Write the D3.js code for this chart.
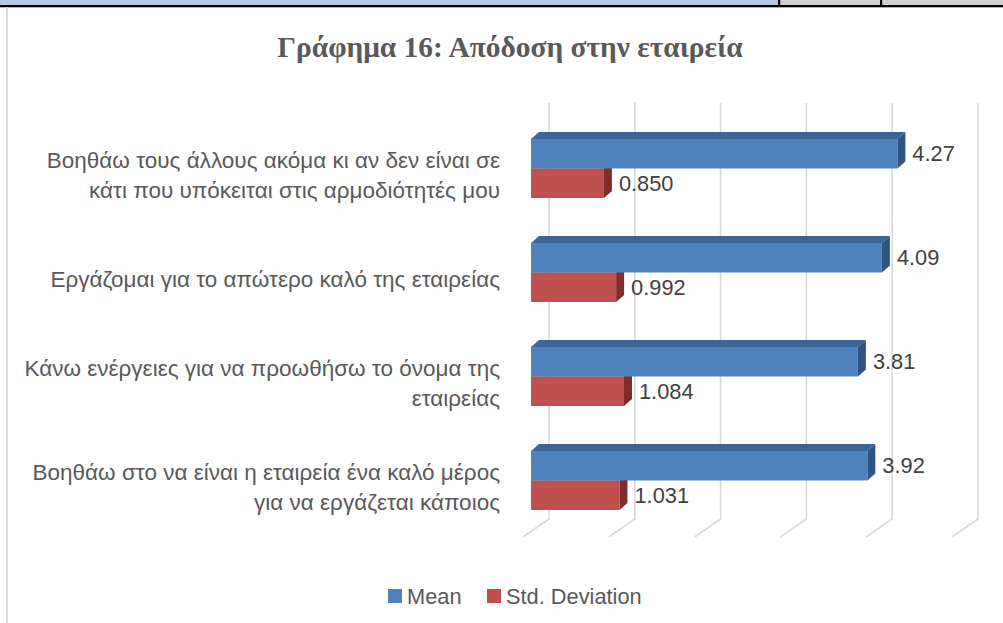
<!DOCTYPE html>
<html>
<head>
<meta charset="utf-8">
<script src="https://cdn.jsdelivr.net/npm/d3@7"></script>
<style>
  html, body { margin: 0; padding: 0; background: #fff; }
  svg { display: block; }
</style>
</head>
<body>
<svg id="chart" width="1003" height="623"></svg>
<script>
const titleText = "Γράφημα 16: Απόδοση στην εταιρεία";
const categories = [
  ["Βοηθάω τους άλλους ακόμα κι αν δεν είναι σε", "κάτι που υπόκειται στις αρμοδιότητές μου"],
  ["Εργάζομαι για το απώτερο καλό της εταιρείας"],
  ["Κάνω ενέργειες για να προωθήσω το όνομα της", "εταιρείας"],
  ["Βοηθάω στο να είναι η εταιρεία ένα καλό μέρος", "για να εργάζεται κάποιος"]
];
const seriesNames = ["Mean", "Std. Deviation"];
const meanValues = [4.27, 4.09, 3.81, 3.92];
const sdValues = [0.850, 0.992, 1.084, 1.031];
const meanLabels = ["4.27", "4.09", "3.81", "3.92"];
const sdLabels = ["0.850", "0.992", "1.084", "1.031"];
const tickValues = [0, 1, 2, 3, 4, 5];

const svg = d3.select("#chart");
const W = 1003, H = 623;

// page frame pieces
svg.append("rect").attr("x", 0).attr("y", 0).attr("width", 778).attr("height", 5).attr("fill", "#b4c7e7");
svg.append("rect").attr("x", 778).attr("y", 0).attr("width", 225).attr("height", 5).attr("fill", "#d0cece");
svg.append("rect").attr("x", 0).attr("y", 5).attr("width", W).attr("height", 2.3).attr("fill", "#000");
svg.append("rect").attr("x", 778).attr("y", 0).attr("width", 2.2).attr("height", 6).attr("fill", "#000");
svg.append("rect").attr("x", 880).attr("y", 0).attr("width", 2.2).attr("height", 6).attr("fill", "#000");
svg.append("rect").attr("x", 6).attr("y", 7).attr("width", 1.8).attr("height", H - 7).attr("fill", "#d9d9d9");

// title
svg.append("text")
  .attr("x", 510).attr("y", 57)
  .attr("text-anchor", "middle")
  .attr("font-family", "Liberation Serif, Times New Roman, serif")
  .attr("font-weight", "bold")
  .attr("font-size", 29.4)
  .attr("fill", "#595959")
  .text(titleText);

// 3D geometry
const x = d3.scaleLinear().domain([0, 5]).range([549, 978]);      // back wall
const y = d3.scaleBand().domain(d3.range(categories.length)).range([103, 519]);
const s = d3.scaleBand().domain(seriesNames).range([24, 83]);
const floorDX = -26, floorDY = 18;   // back wall -> front floor edge
const barDX = -18, barDY = 12;       // back wall -> bar front face
const depthX = 8, depthY = 7;        // bar depth

// gridlines
const grid = svg.append("g");
tickValues.forEach(t => {
  const gx = x(t);
  grid.append("path")
    .attr("d", `M${gx},${y.range()[0]} L${gx},${y.range()[1]} L${gx + floorDX},${y.range()[1] + floorDY}`)
    .attr("fill", "none").attr("stroke", "#d9d9d9").attr("stroke-width", 1.6);
});

const colors = {
  "Mean": { front: "#4f81bd", top: "#3c6496", side: "#2f5483" },
  "Std. Deviation": { front: "#c0504d", top: "#9a3d3a", side: "#7f2c2a" }
};

function drawBar(g, cat, series, v) {
  const c = colors[series];
  const x0 = x(0) + barDX, x1 = x(v) + barDX;
  const y0 = y(cat) + s(series) + barDY, y1 = y0 + s.bandwidth();
  g.append("path")
    .attr("d", `M${x0},${y0} L${x1},${y0} L${x1 + depthX},${y0 - depthY} L${x0 + depthX},${y0 - depthY} Z`)
    .attr("fill", c.top);
  g.append("path")
    .attr("d", `M${x1},${y0} L${x1 + depthX},${y0 - depthY} L${x1 + depthX},${y1 - depthY} L${x1},${y1} Z`)
    .attr("fill", c.side);
  g.append("rect")
    .attr("x", x0).attr("y", y0).attr("width", x1 - x0).attr("height", y1 - y0)
    .attr("fill", c.front);
}

const bars = svg.append("g");
categories.forEach((cat, i) => {
  drawBar(bars, i, "Std. Deviation", sdValues[i]);
  drawBar(bars, i, "Mean", meanValues[i]);
});

// data labels
const labels = svg.append("g")
  .attr("font-family", "Liberation Sans, Arial, sans-serif")
  .attr("font-size", 21.8).attr("fill", "#404040");
categories.forEach((cat, i) => {
  [["Mean", meanValues[i], meanLabels[i]], ["Std. Deviation", sdValues[i], sdLabels[i]]].forEach(([ser, v, lab]) => {
    const y0 = y(i) + s(ser) + barDY;
    labels.append("text")
      .attr("x", x(v) + barDX + depthX + 7)
      .attr("y", y0 + s.bandwidth() / 2)
      .attr("dy", "0.35em")
      .text(lab);
  });
});

// category labels
const catG = svg.append("g")
  .attr("font-family", "Liberation Sans, Arial, sans-serif")
  .attr("font-size", 22.5).attr("fill", "#595959")
  .attr("text-anchor", "end");
const lineH = 29.5;
categories.forEach((lines, i) => {
  const cy = y(i) + y.bandwidth() / 2 + 20;
  const t = catG.append("text").attr("x", 500);
  lines.forEach((ln, k) => {
    t.append("tspan")
      .attr("x", 500)
      .attr("y", cy + (k - (lines.length - 1) / 2) * lineH)
      .attr("dy", "0.35em")
      .text(ln);
  });
});

// legend
const legend = svg.append("g")
  .attr("font-family", "Liberation Sans, Arial, sans-serif")
  .attr("font-size", 21.8).attr("fill", "#595959");
const legendPos = [388, 487];
seriesNames.forEach((name, i) => {
  legend.append("rect")
    .attr("x", legendPos[i]).attr("y", 589).attr("width", 14).attr("height", 14)
    .attr("fill", colors[name].front);
  legend.append("text")
    .attr("x", legendPos[i] + 19).attr("y", 596).attr("dy", "0.35em")
    .text(name);
});
</script>
</body>
</html>
